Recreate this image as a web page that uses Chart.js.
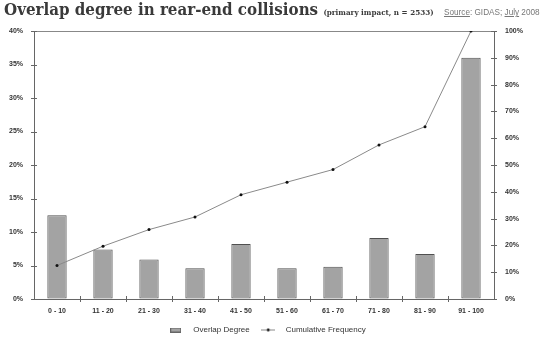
<!DOCTYPE html>
<html>
<head>
<meta charset="utf-8">
<script src="https://cdn.jsdelivr.net/npm/chart.js@4"></script>
<style>
    html, body { margin: 0; padding: 0; background: #fff; }
    #wrap { position: relative; width: 548px; height: 338px; overflow: hidden; }
    #chart { position: absolute; left: 0; top: 0; }
    .title { position: absolute; left: 4px; top: -1px; font-family: "DejaVu Serif Condensed", "DejaVu Serif", serif; font-weight: bold; font-size: 16.8px; color: #3a3a3a; white-space: nowrap; }
    .sub { font-size: 8px; color: #3a3a3a; }
    .source { position: absolute; left: 444px; top: 8px; font-family: "Liberation Sans", Arial, sans-serif; font-size: 8.2px; color: #777; white-space: nowrap; }
    .source u { text-decoration: underline; }
</style>
</head>
<body>
<div id="wrap">
    <canvas id="chart" width="548" height="338"></canvas>
    <div class="title">Overlap degree in rear-end collisions <span class="sub">(primary impact, n = 2533)</span></div>
    <div class="source"><u>Source</u>: GIDAS; <u>July</u> 2008</div>
</div>
<script>
// Overlap degree chart data
const categories = ['0 - 10', '11 - 20', '21 - 30', '31 - 40', '41 - 50', '51 - 60', '61 - 70', '71 - 80', '81 - 90', '91 - 100'];
const overlapDegree = [12.5, 7.4, 5.9, 4.6, 8.2, 4.6, 4.8, 9.1, 6.7, 36.0];
const cumulativeFrequency = [12.5, 19.7, 25.9, 30.6, 38.9, 43.6, 48.3, 57.5, 64.3, 100];
const leftTicks = { min: 0, max: 40, step: 5 };
const rightTicks = { min: 0, max: 100, step: 10 };

(function() {
    const ctx = document.getElementById('chart').getContext('2d');

    // small legend glyphs
    function barGlyph() {
        const c = document.createElement('canvas');
        c.width = 11; c.height = 5;
        const g = c.getContext('2d');
        g.fillStyle = '#a3a3a3';
        g.fillRect(0, 0, 11, 5);
        g.strokeStyle = '#666';
        g.lineWidth = 1;
        g.strokeRect(0.5, 0.5, 10, 4);
        return c;
    }
    function lineGlyph() {
        const c = document.createElement('canvas');
        c.width = 14; c.height = 5;
        const g = c.getContext('2d');
        g.strokeStyle = '#888';
        g.lineWidth = 1;
        g.beginPath(); g.moveTo(0, 2.5); g.lineTo(14, 2.5); g.stroke();
        g.fillStyle = '#111';
        g.beginPath(); g.arc(7, 2.5, 1.4, 0, Math.PI * 2); g.fill();
        return c;
    }
    const legendGlyphs = { 'Overlap Degree': barGlyph(), 'Cumulative Frequency': lineGlyph() };

    // tick marks that cross the axis lines, like the original
    const crossTicks = {
        id: 'crossTicks',
        afterDraw(chart) {
            const g = chart.ctx;
            const a = chart.chartArea;
            g.save();
            g.strokeStyle = '#666';
            g.lineWidth = 1;
            g.beginPath();
            const y = chart.scales.y, y1 = chart.scales.y1, x = chart.scales.x;
            y.ticks.forEach((t, i) => {
                const p = Math.round(y.getPixelForTick(i)) + 0.5;
                g.moveTo(a.left - 3, p); g.lineTo(a.left + 3, p);
            });
            y1.ticks.forEach((t, i) => {
                const p = Math.round(y1.getPixelForTick(i)) + 0.5;
                g.moveTo(a.right - 3, p); g.lineTo(a.right + 3, p);
            });
            for (let i = 1; i < x.ticks.length; i++) {
                const p = Math.round((x.getPixelForTick(i - 1) + x.getPixelForTick(i)) / 2) + 0.5;
                g.moveTo(p, a.bottom - 3); g.lineTo(p, a.bottom + 3);
            }
            g.stroke();
            g.restore();
        }
    };

    const tickFont = { family: 'Liberation Sans', size: 7, weight: 'bold' };

    const chart = new Chart(ctx, {
        data: {
            labels: categories,
            datasets: [{
                type: 'line',
                label: 'Cumulative Frequency',
                data: cumulativeFrequency,
                yAxisID: 'y1',
                borderColor: '#8a8a8a',
                borderWidth: 1,
                pointRadius: 1.5,
                pointBackgroundColor: '#111',
                pointBorderWidth: 0,
                tension: 0,
                order: 0
            }, {
                type: 'bar',
                label: 'Overlap Degree',
                data: overlapDegree,
                yAxisID: 'y',
                backgroundColor: '#a3a3a3',
                borderColor: '#505050',
                borderWidth: 1,
                borderSkipped: false,
                categoryPercentage: 1,
                barPercentage: 0.42,
                order: 1
            }]
        },
        options: {
            responsive: false,
            animation: false,
            layout: { padding: { top: 31, left: 0, right: 0, bottom: 2 } },
            plugins: {
                tooltip: { enabled: false },
                legend: {
                    position: 'bottom',
                    fullSize: false,
                    reverse: true,
                    labels: {
                        usePointStyle: true,
                        pointStyleWidth: 27,
                        boxHeight: 8,
                        font: { family: 'Liberation Sans', size: 8 },
                        color: '#333',
                        padding: 5,
                        generateLabels: chart => {
                            const items = Chart.defaults.plugins.legend.labels.generateLabels(chart);
                            items.forEach(it => { it.pointStyle = legendGlyphs[it.text]; });
                            return items;
                        }
                    }
                }
            },
            scales: {
                x: {
                    afterFit: s => { s.height = 22; },
                    grid: { offset: true, drawOnChartArea: false, drawTicks: false },
                    border: { color: '#666' },
                    ticks: { font: tickFont, color: '#333', padding: 8, maxRotation: 0 }
                },
                y: {
                    position: 'left',
                    min: leftTicks.min,
                    max: leftTicks.max,
                    afterFit: s => { s.width = 34; },
                    grid: {
                        drawTicks: false,
                        color: c => c.tick && c.tick.value === leftTicks.max ? '#888' : 'transparent'
                    },
                    border: { color: '#666' },
                    ticks: {
                        stepSize: leftTicks.step,
                        font: tickFont,
                        color: '#333',
                        padding: 11,
                        callback: v => v + '%'
                    }
                },
                y1: {
                    position: 'right',
                    min: rightTicks.min,
                    max: rightTicks.max,
                    afterFit: s => { s.width = 54; },
                    grid: { drawOnChartArea: false, drawTicks: false },
                    border: { color: '#666' },
                    ticks: {
                        stepSize: rightTicks.step,
                        font: tickFont,
                        color: '#333',
                        padding: 11,
                        callback: v => v + '%'
                    }
                }
            }
        },
        plugins: [crossTicks]
    });

    // fix the legend band height so the plot area lines up
    const legendFit = chart.legend.fit;
    chart.legend.fit = function() {
        legendFit.call(this);
        this.height = 15;
    };
    chart.update();
})();
</script>
</body>
</html>
